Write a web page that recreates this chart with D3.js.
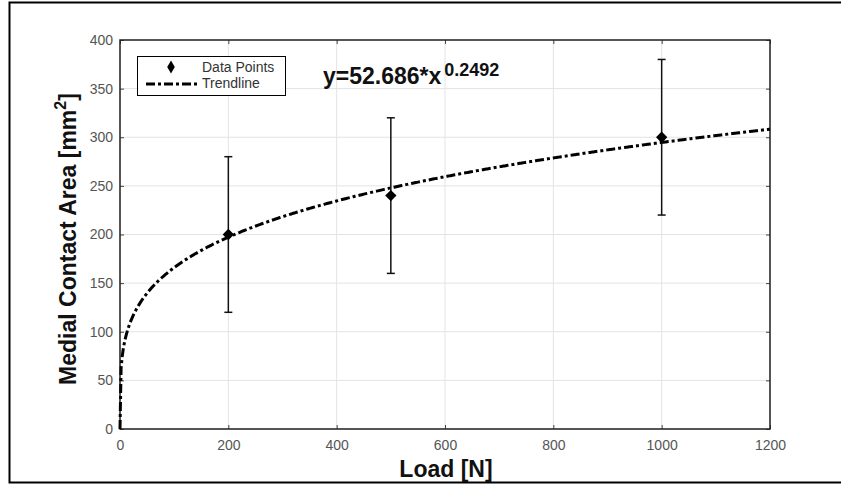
<!DOCTYPE html>
<html>
<head>
<meta charset="utf-8">
<script src="https://cdn.jsdelivr.net/npm/d3@7"></script>
<style>
  body { margin: 0; background: #fff; }
  text { font-family: "Liberation Sans", Arial, sans-serif; }
</style>
</head>
<body>
<svg id="chart" width="841" height="484"></svg>
<script>
// data
var loads = [200, 500, 1000];
var areas = [200, 240, 300];
var errLow = [120, 160, 220];
var errHigh = [280, 320, 380];
var xTicks = [0, 200, 400, 600, 800, 1000, 1200];
var yTicks = [0, 50, 100, 150, 200, 250, 300, 350, 400];
var coefA = 52.686, coefB = 0.2492;

var svg = d3.select('#chart');

// outer frame
svg.append('rect')
   .attr('x', 9.5).attr('y', 2.5)
   .attr('width', 840).attr('height', 480)
   .attr('fill', 'none').attr('stroke', '#000').attr('stroke-width', 2);

var pLeft = 120, pRight = 770, pTop = 40, pBottom = 429;
var x = d3.scaleLinear().domain([0, 1200]).range([pLeft, pRight]);
var y = d3.scaleLinear().domain([0, 400]).range([pBottom, pTop]);
var fmt = d3.format('d');

// grid
svg.append('g').selectAll('line').data(xTicks).enter().append('line')
   .attr('x1', function(d) { return x(d); }).attr('x2', function(d) { return x(d); })
   .attr('y1', pTop).attr('y2', pBottom)
   .attr('stroke', '#e3e3e3').attr('stroke-width', 1);
svg.append('g').selectAll('line').data(yTicks).enter().append('line')
   .attr('y1', function(d) { return y(d); }).attr('y2', function(d) { return y(d); })
   .attr('x1', pLeft).attr('x2', pRight)
   .attr('stroke', '#e3e3e3').attr('stroke-width', 1);

// axes with inward ticks
var tickStyle = function(g) {
  g.select('.domain').remove();
  g.selectAll('line').attr('stroke', '#444');
  g.selectAll('text').attr('fill', '#555').style('font-size', '14px');
};
svg.append('g').attr('transform', 'translate(0,' + pBottom + ')')
   .call(d3.axisBottom(x).tickValues(xTicks).tickFormat(fmt).tickSizeInner(-4).tickSizeOuter(0).tickPadding(11))
   .call(tickStyle);
svg.append('g').attr('transform', 'translate(0,' + pTop + ')')
   .call(d3.axisTop(x).tickValues(xTicks).tickSizeInner(-4).tickSizeOuter(0).tickFormat(''))
   .call(tickStyle);
svg.append('g').attr('transform', 'translate(' + pLeft + ',0)')
   .call(d3.axisLeft(y).tickValues(yTicks).tickFormat(fmt).tickSizeInner(-4).tickSizeOuter(0).tickPadding(7))
   .call(tickStyle);
svg.append('g').attr('transform', 'translate(' + pRight + ',0)')
   .call(d3.axisRight(y).tickValues(yTicks).tickSizeInner(-4).tickSizeOuter(0).tickFormat(''))
   .call(tickStyle);

// box
svg.append('rect')
   .attr('x', pLeft).attr('y', pTop)
   .attr('width', pRight - pLeft).attr('height', pBottom - pTop)
   .attr('fill', 'none').attr('stroke', '#222').attr('stroke-width', 1.5);

// trend line
var trend = d3.range(0, 1201, 2).map(function(v) { return [v, coefA * Math.pow(v, coefB)]; });
svg.append('path')
   .datum(trend)
   .attr('d', d3.line().x(function(d) { return x(d[0]); }).y(function(d) { return y(d[1]); }))
   .attr('fill', 'none').attr('stroke', '#000').attr('stroke-width', 3)
   .attr('stroke-dasharray', '9,3,3,3');

// error bars
var eb = svg.append('g').attr('stroke', '#111').attr('stroke-width', 1.5);
loads.forEach(function(l, i) {
  eb.append('line').attr('x1', x(l)).attr('x2', x(l)).attr('y1', y(errLow[i])).attr('y2', y(errHigh[i]));
  eb.append('line').attr('x1', x(l) - 4).attr('x2', x(l) + 4).attr('y1', y(errLow[i])).attr('y2', y(errLow[i]));
  eb.append('line').attr('x1', x(l) - 4).attr('x2', x(l) + 4).attr('y1', y(errHigh[i])).attr('y2', y(errHigh[i]));
});

// markers
var marker = d3.symbol().type(d3.symbolSquare).size(64);
svg.append('g').selectAll('path').data(loads).enter().append('path')
   .attr('d', marker)
   .attr('transform', function(d, i) { return 'translate(' + x(d) + ',' + y(areas[i]) + ') rotate(45)'; })
   .attr('fill', '#000');

// legend
var lg = svg.append('g');
lg.append('rect').attr('x', 137.5).attr('y', 56.5).attr('width', 148).attr('height', 39)
  .attr('fill', '#fff').attr('stroke', '#000').attr('stroke-width', 1);
lg.append('path').attr('d', d3.symbol().type(d3.symbolDiamond).size(50))
  .attr('transform', 'translate(171,67)').attr('fill', '#000');
lg.append('line').attr('x1', 146).attr('x2', 197).attr('y1', 84).attr('y2', 84)
  .attr('stroke', '#000').attr('stroke-width', 3).attr('stroke-dasharray', '9,3,3,3');
lg.append('text').attr('x', 202).attr('y', 72).text('Data Points')
  .style('font-size', '14px').attr('fill', '#333');
lg.append('text').attr('x', 202).attr('y', 88).text('Trendline')
  .style('font-size', '14px').attr('fill', '#333');

// equation
var eq = svg.append('text').attr('x', 323).attr('y', 84)
  .style('font-size', '23px').style('font-weight', 'bold').attr('fill', '#111');
eq.append('tspan').text('y=52.686*x');
eq.append('tspan').attr('dx', 3).attr('dy', -8).style('font-size', '18px').text('0.2492');

// axis labels
svg.append('text').attr('x', 446).attr('y', 477)
   .attr('text-anchor', 'middle')
   .style('font-size', '23px').style('font-weight', 'bold').attr('fill', '#111')
   .text('Load [N]');
var yl = svg.append('text')
   .attr('transform', 'translate(76,239) rotate(-90)')
   .attr('text-anchor', 'middle')
   .style('font-size', '23px').style('font-weight', 'bold').attr('fill', '#111');
yl.append('tspan').text('Medial Contact Area [mm');
yl.append('tspan').attr('dy', -10).style('font-size', '16px').text('2');
yl.append('tspan').attr('dy', 10).text(']');
</script>
</body>
</html>
